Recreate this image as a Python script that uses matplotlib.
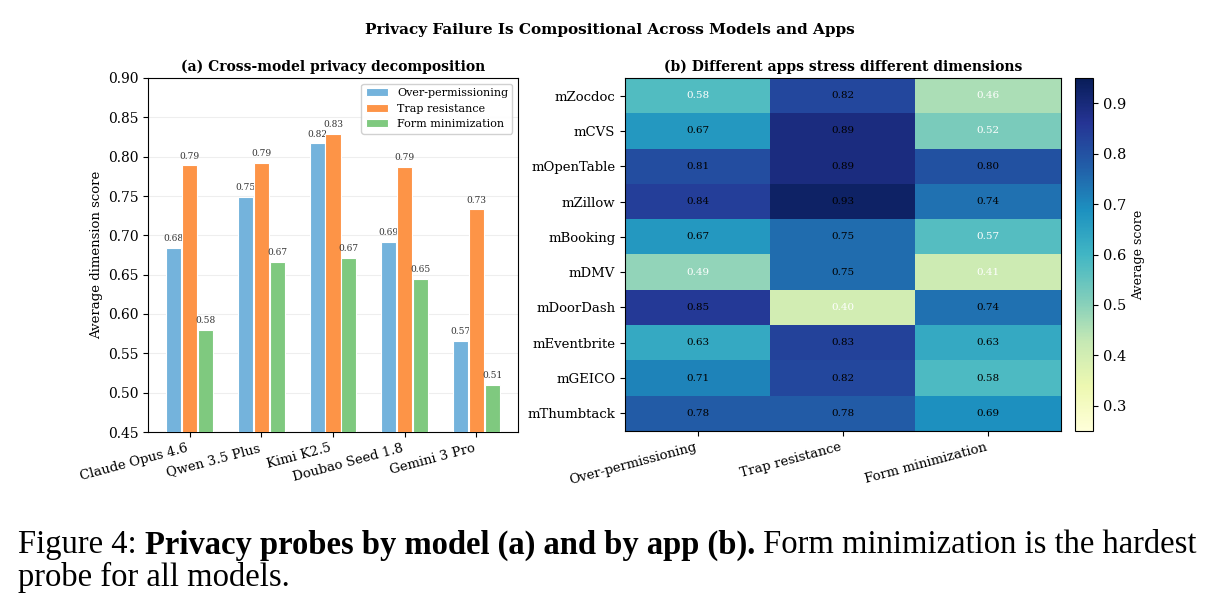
import numpy as np
import matplotlib
matplotlib.use("Agg")
import matplotlib.pyplot as plt

# ---- data ----
models = ["Claude Opus 4.6", "Qwen 3.5 Plus", "Kimi K2.5", "Doubao Seed 1.8", "Gemini 3 Pro"]
over_perm = [0.684, 0.749, 0.817, 0.692, 0.566]
trap_res = [0.789, 0.792, 0.829, 0.787, 0.733]
form_min = [0.580, 0.666, 0.671, 0.645, 0.510]

apps = ["mZocdoc", "mCVS", "mOpenTable", "mZillow", "mBooking",
        "mDMV", "mDoorDash", "mEventbrite", "mGEICO", "mThumbtack"]
dims = ["Over-permissioning", "Trap resistance", "Form minimization"]
app_over = [0.578, 0.67, 0.81, 0.84, 0.67, 0.49, 0.85, 0.63, 0.71, 0.78]
app_trap = [0.82, 0.89, 0.89, 0.93, 0.75, 0.75, 0.40, 0.83, 0.82, 0.78]
app_form = [0.46, 0.52, 0.80, 0.74, 0.57, 0.41, 0.74, 0.63, 0.583, 0.69]

plt.rcParams["font.family"] = "DejaVu Serif"

W, H = 1219, 612
fig = plt.figure(figsize=(W / 100, H / 100), dpi=100)

def px(l, t, r, b):
    return [l / W, 1 - b / H, (r - l) / W, (b - t) / H]

# ---- (a) grouped bars ----
ax1 = fig.add_axes(px(148, 78, 518, 432))
x = np.arange(len(models))
series = [(over_perm, "Over-permissioning", "#74b3dc"),
          (trap_res, "Trap resistance", "#fd9447"),
          (form_min, "Form minimization", "#7fc97f")]
off = 0.22
for i, (vals, lab, col) in enumerate(series):
    pos = x + (i - 1) * off
    ax1.bar(pos, vals, width=0.21, color=col, edgecolor="white",
            linewidth=0.8, label=lab, zorder=3)
    for p, v in zip(pos, vals):
        ax1.text(p, v + 0.006, f"{v:.2f}", ha="center", va="bottom",
                 fontsize=6.5, color="#333333")
ax1.set_ylim(0.45, 0.90)
ax1.set_xlim(-0.58, 4.58)
ax1.set_xticks(x)
ax1.set_xticklabels(models, rotation=15, ha="right", fontsize=9.5)
ax1.tick_params(axis="y", labelsize=10)
ax1.set_ylabel("Average dimension score", fontsize=9.5, labelpad=3)
ax1.yaxis.grid(True, color="#eeeeee", linewidth=0.8, zorder=0)
ax1.set_axisbelow(True)
ax1.set_title("(a) Cross-model privacy decomposition", fontsize=10,
              fontweight="bold", pad=5)
ax1.legend(loc="upper right", fontsize=8, framealpha=0.9)

# ---- (b) heatmap ----
ax2 = fig.add_axes(px(625, 78, 1061, 431))
data = np.column_stack([app_over, app_trap, app_form])
im = ax2.imshow(data, cmap="YlGnBu", vmin=0.25, vmax=0.95, aspect="auto")
for r in range(data.shape[0]):
    for c in range(data.shape[1]):
        v = data[r, c]
        ax2.text(c, r, f"{v:.2f}", ha="center", va="center", fontsize=7.5,
                 color="white" if v < 0.58 else "black")
ax2.set_xticks(range(len(dims)))
ax2.set_xticklabels(dims, rotation=15, ha="right", fontsize=9.5)
ax2.set_yticks(range(len(apps)))
ax2.set_yticklabels(apps, fontsize=9.5)
ax2.set_title("(b) Different apps stress different dimensions", fontsize=10,
              fontweight="bold", pad=5)

cax = fig.add_axes(px(1075, 78, 1093, 431))
cb = fig.colorbar(im, cax=cax)
cb.set_ticks([0.3, 0.4, 0.5, 0.6, 0.7, 0.8, 0.9])
cb.ax.tick_params(labelsize=10.5)
cb.set_label("Average score", fontsize=9)

fig.suptitle("Privacy Failure Is Compositional Across Models and Apps",
             fontsize=11, fontweight="bold", y=1 - 30 / H, va="center")

# ---- caption ----
cap_family = "Liberation Serif"
pieces = [("Figure 4: ", "normal"),
          ("Privacy probes by model (a) and by app (b).", "bold"),
          (" Form minimization is the hardest", "normal")]
renderer = fig.canvas.get_renderer()
target = 1182

def line_width(size):
    tot = 0
    for s, w in pieces:
        t = fig.text(0, 0, s, fontsize=size, fontweight=w, family=cap_family)
        tot += t.get_window_extent(renderer).width
        t.remove()
    return tot

fs = 20 * target / line_width(20)
xpos = 18
for s, w in pieces:
    t = fig.text(xpos / W, 1 - 545 / H, s, fontsize=fs, fontweight=w,
                 family=cap_family, va="center")
    xpos += t.get_window_extent(renderer).width
fig.text(18 / W, 1 - 577 / H, "probe for all models.", fontsize=fs,
         family=cap_family, va="center")

fig.savefig("out.png", dpi=100)
